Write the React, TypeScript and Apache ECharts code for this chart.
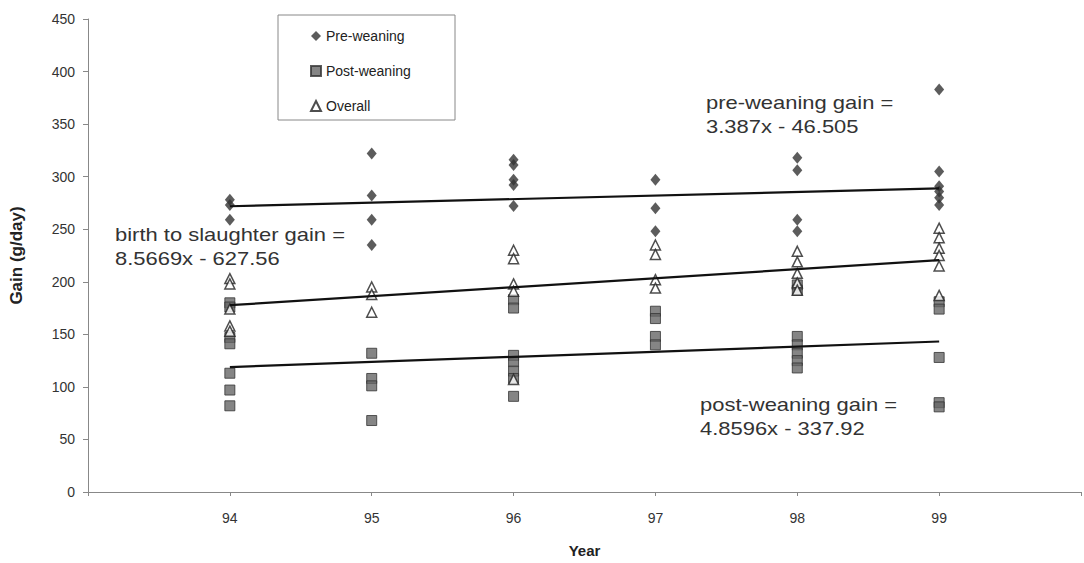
import React, { useEffect, useRef } from "react";
import * as echarts from "echarts";

const preWeaning: [number, number][] = [
  [94, 278], [94, 273], [94, 259],
  [95, 322], [95, 282], [95, 259], [95, 235],
  [96, 316], [96, 311], [96, 297], [96, 292], [96, 272],
  [97, 297], [97, 270], [97, 248],
  [98, 318], [98, 306], [98, 259], [98, 248],
  [99, 383], [99, 305], [99, 291], [99, 286], [99, 280], [99, 273],
];
const postWeaning: [number, number][] = [
  [94, 180], [94, 176], [94, 147], [94, 141], [94, 113], [94, 97], [94, 82],
  [95, 132], [95, 108], [95, 101], [95, 68],
  [96, 183], [96, 175], [96, 130], [96, 124], [96, 115], [96, 108], [96, 91],
  [97, 172], [97, 165], [97, 148], [97, 140],
  [98, 197], [98, 192], [98, 148], [98, 140], [98, 132], [98, 125], [98, 118],
  [99, 181], [99, 174], [99, 128], [99, 85], [99, 81],
];
const overall: [number, number][] = [
  [94, 203], [94, 198], [94, 174], [94, 158], [94, 153],
  [95, 195], [95, 188], [95, 171],
  [96, 230], [96, 222], [96, 198], [96, 191], [96, 107],
  [97, 235], [97, 226], [97, 202], [97, 194],
  [98, 229], [98, 219], [98, 208], [98, 199], [98, 192],
  [99, 251], [99, 242], [99, 232], [99, 225], [99, 215], [99, 187],
];

// trend line coefficients as printed on the chart (slope, intercept)
const preTrend = [3.387, -46.505];
const postTrend = [4.8596, -337.92];
const overallTrend = [8.5669, -627.56];
const trendX = [94, 99];

const yearTicks = [94, 95, 96, 97, 98, 99];

const trendData = (c: number[]) => trendX.map((x) => [x, c[0] * x + c[1]]);

const FONT = "'Liberation Sans', Arial, sans-serif";

export default function App() {
  const ref = useRef<HTMLDivElement>(null);
  useEffect(() => {
    if (!ref.current) return;
    const chart = echarts.init(ref.current, null, { renderer: "svg" });
    const lineStyle = { color: "#111", width: 2.2 };
    const trendSeries = (c: number[]) => ({
      type: "line",
      data: trendData(c),
      symbol: "none",
      lineStyle,
      z: 5,
      silent: true,
    });
    const annot = (x: number, y: number, text: string) => ({
      type: "text",
      x,
      y,
      scaleX: 1.22,
      style: {
        text,
        font: `18px ${FONT}`,
        fill: "#333",
        lineHeight: 24,
      },
    });
    chart.setOption({
      animation: false,
      backgroundColor: "#fff",
      textStyle: { fontFamily: FONT },
      grid: { left: 88, right: 2, top: 19, bottom: 71 },
      xAxis: {
        type: "value",
        min: 93,
        max: 100,
        interval: 1,
        name: "Year",
        nameLocation: "middle",
        nameGap: 51,
        nameTextStyle: { fontSize: 15, fontWeight: "bold", color: "#222", fontFamily: FONT },
        axisLine: { lineStyle: { color: "#888", width: 1 } },
        axisTick: { show: true, length: 4, lineStyle: { color: "#888" } },
        axisLabel: {
          color: "#333",
          fontSize: 14,
          margin: 19,
          formatter: (v: number) => (yearTicks.includes(v) ? String(v) : ""),
        },
        splitLine: { show: false },
      },
      yAxis: {
        type: "value",
        min: 0,
        max: 450,
        interval: 50,
        name: "Gain (g/day)",
        nameLocation: "middle",
        nameGap: 63,
        nameTextStyle: { fontSize: 17, fontWeight: "bold", color: "#222", fontFamily: FONT },
        axisLine: { show: true, lineStyle: { color: "#888", width: 1 } },
        axisTick: { show: true, length: 5, lineStyle: { color: "#888" } },
        axisLabel: { color: "#333", fontSize: 14, margin: 13 },
        splitLine: { show: false },
      },
      legend: {
        data: ["Pre-weaning", "Post-weaning", "Overall"],
        orient: "vertical",
        left: 305,
        top: 24,
        itemWidth: 10,
        itemHeight: 10,
        itemGap: 21,
        textStyle: { fontSize: 14, color: "#222", fontFamily: FONT },
      },
      graphic: [
        {
          type: "rect",
          shape: { x: 278, y: 15, width: 177, height: 105 },
          style: { fill: "none", stroke: "#888", lineWidth: 1 },
          z: 0,
        },
        annot(706, 91, "pre-weaning gain =\n3.387x - 46.505"),
        annot(115, 223, "birth to slaughter gain =\n8.5669x - 627.56"),
        annot(700, 393, "post-weaning gain =\n4.8596x - 337.92"),
      ],
      series: [
        {
          name: "Pre-weaning",
          type: "scatter",
          symbol: "diamond",
          symbolSize: [10, 12],
          data: preWeaning,
          itemStyle: { color: "#333" },
          z: 2,
        },
        {
          name: "Post-weaning",
          type: "scatter",
          symbol: "rect",
          symbolSize: 10,
          data: postWeaning,
          itemStyle: { color: "#666", borderColor: "#333", borderWidth: 1 },
          z: 3,
        },
        {
          name: "Overall",
          type: "scatter",
          symbol: "triangle",
          symbolSize: 10,
          data: overall,
          itemStyle: { color: "#fff", borderColor: "#222", borderWidth: 1.5 },
          z: 4,
        },
        trendSeries(preTrend),
        trendSeries(postTrend),
        trendSeries(overallTrend),
      ],
    });
    return () => chart.dispose();
  }, []);
  return (
    <div
      ref={ref}
      style={{ position: "fixed", left: 0, top: 0, width: 1084, height: 563 }}
    />
  );
}
